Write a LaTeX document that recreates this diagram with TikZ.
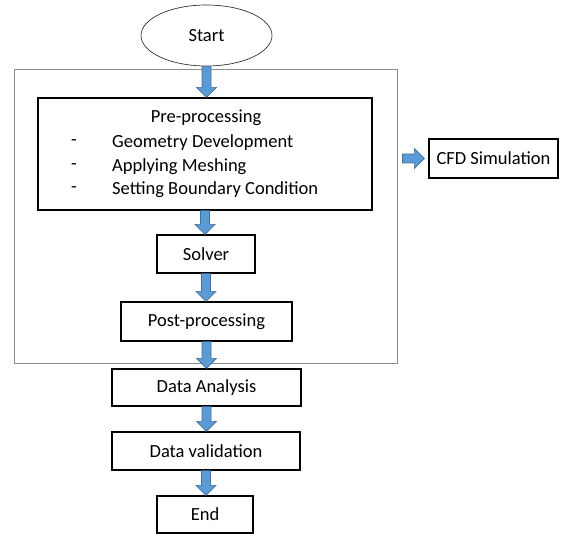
\documentclass[tikz,border=0pt]{standalone}
\usepackage{fontspec}
\setmainfont{Carlito}
\usepackage{tikz}
\usetikzlibrary{positioning}
\usetikzlibrary{shapes.geometric}
\usetikzlibrary{calc}

\definecolor{arrowfill}{HTML}{5B9BD5}
\definecolor{arrowline}{HTML}{41719C}
\definecolor{framegray}{HTML}{8C8C8C}

% block arrow from #1 straight on to the line of #2
\newcommand{\blockarrow}[3][-|]{%
  \coordinate (ht) at (#3 #1 #2);
  \coordinate (hb) at ($(ht)!10pt!(#2)$);
  \draw[barrow] ($(#2)!4.5pt!90:(ht)$) -- ($(hb)!4.5pt!90:(ht)$)
     -- ($(hb)!10pt!90:(ht)$) -- (ht) -- ($(hb)!10pt!-90:(ht)$)
     -- ($(hb)!4.5pt!-90:(ht)$) -- ($(#2)!4.5pt!-90:(ht)$) -- cycle;
}

\begin{document}
\begin{tikzpicture}
  [
    x=1pt, y=-1pt,
    font=\fontsize{18.5}{21}\selectfont,
    box/.style={
       draw=black,
       line width=1.3pt,
       rectangle,
       inner sep=0pt
    },
    barrow/.style={
       fill=arrowfill,
       draw=arrowline,
       line width=0.6pt
    },
    lbl/.style={
       inner sep=0pt
    }
  ]
  \useasboundingbox (0,0) rectangle (563,534);

  \node (start) at (206.5,35.5) [ellipse, draw=black!80, line width=0.7pt,
        minimum width=131, minimum height=61] {Start};
  \node (outer) at (205.5,217) [rectangle, draw=framegray, line width=1pt,
        minimum width=383, minimum height=294] {};

  \node (pre)    at (205,154)     [box, minimum width=334, minimum height=112] {};
  \node (solver) at (206,254)     [box, minimum width=98,  minimum height=38]  {Solver};
  \node (post)   at (206.5,321.5) [box, minimum width=171, minimum height=39]  {Post-processing};
  \node (da)     at (206.5,387.5) [box, minimum width=189, minimum height=37]  {Data Analysis};
  \node (dv)     at (206,451)     [box, minimum width=188, minimum height=38]  {Data validation};
  \node (end)    at (205,514.5)   [box, minimum width=96,  minimum height=37]  {End};
  \node (cfd)    at (493.5,158.5) [box, minimum width=129, minimum height=39]  {CFD Simulation};

  \node (pretitle) at (206,118) [lbl] {Pre-processing};
  \foreach \txt [count=\i] in {Geometry Development, Applying Meshing, Setting Boundary Condition} {
    \node (dash\i) at (74,119.5+23.5*\i) [lbl] {-};
    \node (item\i) at (112,119.5+23.5*\i) [lbl, anchor=west] {\txt};
  }

  \coordinate (cfdout) at ([xshift=5pt]outer.east |- cfd.west);
  \coordinate (cfdin)  at ([xshift=-4pt]cfd.west);

  \blockarrow{start.south}{pre.north}
  \blockarrow{pre.south}{solver.north}
  \blockarrow{solver.south}{post.north}
  \blockarrow{post.south}{da.north}
  \blockarrow{da.south}{dv.north}
  \blockarrow{dv.south}{end.north}
  \blockarrow[|-]{cfdout}{cfdin}
\end{tikzpicture}
\end{document}
